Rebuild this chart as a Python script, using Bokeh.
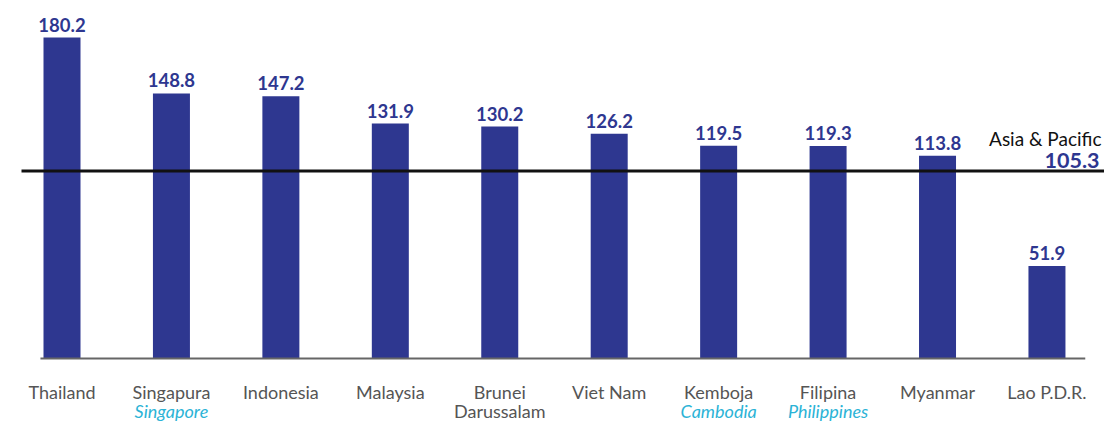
from bokeh.plotting import figure
from bokeh.models import Range1d, ColumnDataSource
from bokeh.core.properties import value
from bokeh.embed import file_html
from bokeh.resources import INLINE

# ---- data ----
countries_ms = ["Thailand", "Singapura", "Indonesia", "Malaysia", "Brunei",
                "Viet Nam", "Kemboja", "Filipina", "Myanmar", "Lao P.D.R."]
second_line = ["", "", "", "", "Darussalam", "", "", "", "", ""]
countries_en = ["", "Singapore", "", "", "", "", "Cambodia", "Philippines", "", ""]
values = [180.2, 148.8, 147.2, 131.9, 130.2, 126.2, 119.5, 119.3, 113.8, 51.9]
avg_label = "Asia & Pacific"
avg_value = 105.3

# ---- style ----
NAVY = "#2E3790"
CYAN = "#2BB3D6"
GREY = "#555555"
W, H = 1104, 421
PX_X = 109.44          # px per category
X0 = -61.5 / PX_X      # range start so first bar centre sits at 61.5px
PX_Y = 321 / 180.2     # px per unit
Y_ZERO = 358           # canvas y of baseline

xs = list(range(len(values)))
src = ColumnDataSource(dict(
    x=xs, v=values, lab=[f"{v:.1f}" for v in values],
    ms=countries_ms, l2=second_line, en=countries_en,
    zero=[0] * len(values)))

p = figure(width=W, height=H, output_backend="svg", toolbar_location=None,
           x_range=Range1d(X0, X0 + W / PX_X),
           y_range=Range1d(-(H - Y_ZERO) / PX_Y, Y_ZERO / PX_Y),
           min_border=0, min_border_left=0, min_border_right=0,
           min_border_top=0, min_border_bottom=0)
p.axis.visible = False
p.grid.visible = False
p.outline_line_color = None
p.background_fill_color = "white"

p.vbar(x="x", top="v", bottom=0, width=37 / PX_X, source=src,
       fill_color=NAVY, line_color=None)

# baseline
p.segment(x0=[xs[0] - 0.197], x1=[xs[-1] + 0.35], y0=[0], y1=[0],
          line_color="#666666", line_width=2)

# average line
p.segment(x0=[X0 + 21 / PX_X], x1=[X0 + W / PX_X], y0=[avg_value], y1=[avg_value],
          line_color="#111111", line_width=3)

# value labels
p.text(x="x", y="v", text="lab", source=src, text_align="center",
       text_baseline="alphabetic", y_offset=-13,
       text_font=value("Lato"), text_font_style="bold",
       text_font_size="18.5px", text_color=NAVY)

# category labels
p.text(x="x", y="zero", text="ms", source=src, text_align="center",
       text_baseline="alphabetic", y_offset=33,
       text_font=value("Lato"), text_font_size="18px", text_color=GREY)
p.text(x="x", y="zero", text="l2", source=src, text_align="center",
       text_baseline="alphabetic", y_offset=52,
       text_font=value("Lato"), text_font_size="18px", text_color=GREY)
p.text(x="x", y="zero", text="en", source=src, text_align="center",
       text_baseline="alphabetic", y_offset=52,
       text_font=value("Lato"), text_font_style="italic",
       text_font_size="18px", text_color=CYAN)

# average annotation
xr = X0 + W / PX_X
p.text(x=[xr], y=[avg_value], text=[avg_label], text_align="right",
       text_baseline="alphabetic", x_offset=-3, y_offset=-32,
       text_font=value("Lato"), text_font_size="19px", text_color="#111111")
p.text(x=[xr], y=[avg_value], text=[f"{avg_value:.1f}"], text_align="right",
       text_baseline="alphabetic", x_offset=-5, y_offset=-10,
       text_font=value("Lato"), text_font_style="bold",
       text_font_size="21.5px", text_color=NAVY)

open("out.html", "w").write(file_html(p, INLINE))
